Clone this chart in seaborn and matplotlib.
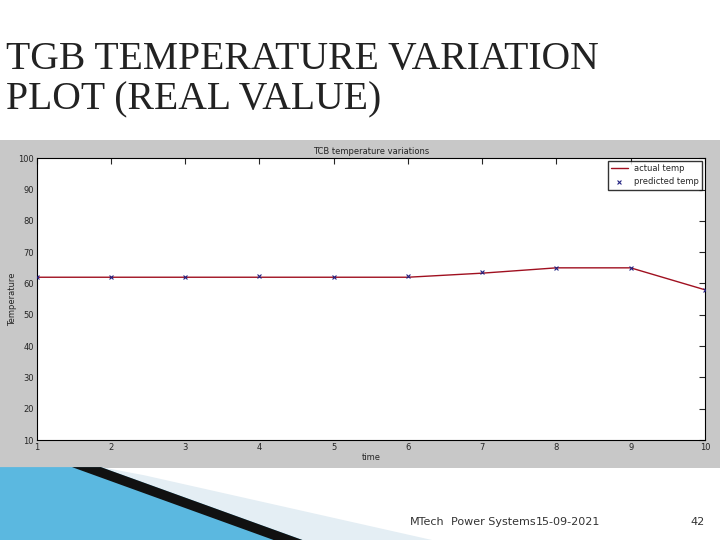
import numpy as np
import pandas as pd
import matplotlib.pyplot as plt
import matplotlib.patches as mpatches
import seaborn as sns

sns.set_style("white")
plt.rcParams['font.family'] = ['DejaVu Sans']

TIME = [1, 2, 3, 4, 5, 6, 7, 8, 9, 10]
ACTUAL = [62, 62, 62, 62, 62, 62, 63.3, 65, 65, 58]
PREDICTED = [62, 62, 62, 62.3, 62, 62.5, 63.8, 65, 65, 58]

df = pd.DataFrame({"time": TIME, "actual temp": ACTUAL, "predicted temp": PREDICTED})

fig = plt.figure(figsize=(7.2, 5.4), dpi=100)
fig.patch.set_facecolor("white")

# background axes holding the slide decorations
bg = fig.add_axes([0, 0, 1, 1], zorder=-1)
bg.set_xlim(0, 1)
bg.set_ylim(0, 1)
bg.axis("off")
bg.add_patch(mpatches.Rectangle((0, 0.133), 1, 0.607, facecolor="#c8c8c8", edgecolor="none"))
bg.add_patch(mpatches.Polygon([(0.14, 0.135), (0.2, 0.12), (0.6, 0.0), (0.42, 0.0)],
                              closed=True, facecolor="#e4eef4", edgecolor="none"))
bg.add_patch(mpatches.Polygon([(0, 0), (0, 0.135), (0.14, 0.135), (0.42, 0.0)],
                              closed=True, facecolor="#5bb8e0", edgecolor="none"))
bg.add_patch(mpatches.Polygon([(0.1, 0.135), (0.14, 0.135), (0.42, 0.0), (0.38, 0.0)],
                              closed=True, facecolor="#111111", edgecolor="none"))

fig.text(0.008, 0.78, "TGB TEMPERATURE VARIATION\nPLOT (REAL VALUE)", family="Liberation Serif",
         fontsize=28.5, color="#222222", va="bottom", ha="left", linespacing=1.12)

ax = fig.add_axes([0.051, 0.185, 0.928, 0.522])
ax.set_facecolor("white")
sns.lineplot(data=df, x="time", y="actual temp", ax=ax, color="#a01020", lw=1, label="actual temp")
sns.scatterplot(data=df, x="time", y="predicted temp", ax=ax, marker="x", s=8, color="#202080",
                linewidth=0.8, label="predicted temp", zorder=3)
ax.set_xlim(1, 10)
ax.set_ylim(10, 100)
ax.set_xticks(TIME)
ax.set_yticks(range(10, 101, 10))
ax.tick_params(direction="in", labelsize=6, length=4, top=True, right=True, pad=2)
for s in ax.spines.values():
    s.set_linewidth(0.8)
    s.set_color("black")
ax.set_xlabel("time", fontsize=6, labelpad=1)
ax.set_ylabel("Temperature", fontsize=6, labelpad=1)
ax.set_title("TCB temperature variations", fontsize=6, pad=3)
leg = ax.legend(loc="upper right", fontsize=6, frameon=True, fancybox=False, borderaxespad=0.3)
leg.get_frame().set_edgecolor("black")

fig.text(410 / 720, 0.027, "MTech", fontsize=8, color="#333333")
fig.text(451 / 720, 0.027, "Power Systems", fontsize=8, color="#333333")
fig.text(536 / 720, 0.027, "15-09-2021", fontsize=8, color="#333333")
fig.text(690 / 720, 0.027, "42", fontsize=8, color="#333333")

plt.savefig("out.png", dpi=100, facecolor="white")
plt.close()
